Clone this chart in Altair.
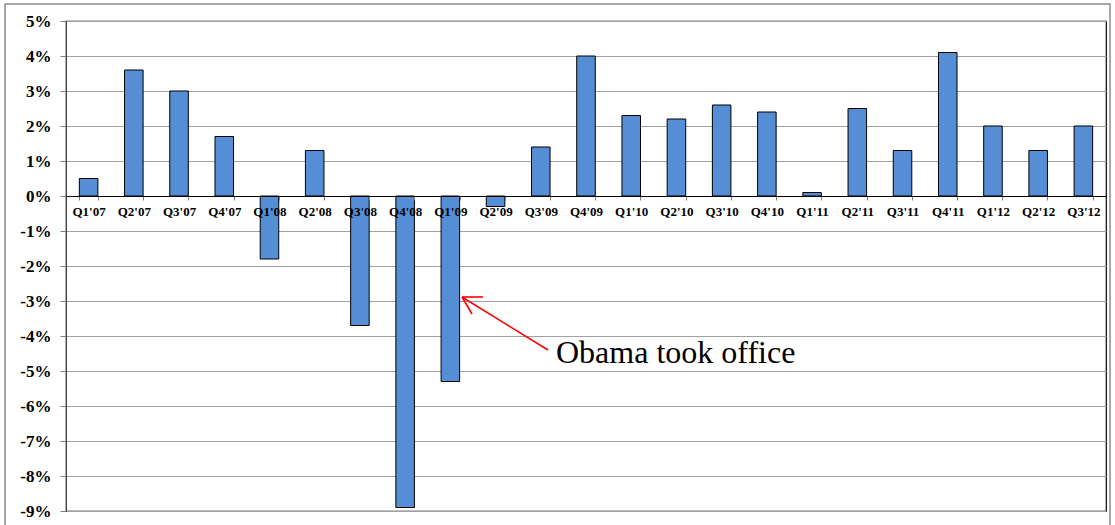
import altair as alt
import pandas as pd

quarters = ["Q1'07", "Q2'07", "Q3'07", "Q4'07", "Q1'08", "Q2'08", "Q3'08", "Q4'08",
            "Q1'09", "Q2'09", "Q3'09", "Q4'09", "Q1'10", "Q2'10", "Q3'10", "Q4'10",
            "Q1'11", "Q2'11", "Q3'11", "Q4'11", "Q1'12", "Q2'12", "Q3'12"]
growth = [0.5, 3.6, 3.0, 1.7, -1.8, 1.3, -3.7, -8.9,
          -5.3, -0.3, 1.4, 4.0, 2.3, 2.2, 2.6, 2.4,
          0.1, 2.5, 1.3, 4.1, 2.0, 1.3, 2.0]
y_ticks = list(range(-9, 6))
annotation_text = "Obama took office"

df = pd.DataFrame({"quarter": quarters, "growth": growth})

FONT = "Liberation Serif"
W, H = 1040, 490

x_enc = alt.X("quarter:N", sort=quarters,
              scale=alt.Scale(paddingInner=0.59, paddingOuter=0.295),
              axis=alt.Axis(orient="bottom", offset=-315, title=None, labelAngle=0,
                            labelFont=FONT, labelFontSize=13, labelFontWeight="bold",
                            labelColor="black", labelPadding=5, tickBand="extent",
                            tickSize=4, tickColor="#808080", domainColor="black",
                            grid=False, zindex=1))
y_enc = alt.Y("growth:Q",
              scale=alt.Scale(domain=[-9, 5], nice=False, zero=False),
              axis=alt.Axis(values=y_ticks, labelExpr="datum.value + '%'", title=None,
                            labelFont=FONT, labelFontSize=17, labelFontWeight="bold",
                            labelColor="black", labelPadding=9, tickSize=6,
                            tickColor="#808080", domainColor="#404040",
                            grid=True, gridColor="#a0a0a0", gridWidth=1))

bars = alt.Chart(df).mark_bar(color="#558ED5", stroke="black", strokeWidth=1).encode(
    x=x_enc, y=y_enc, y2=alt.datum(0))

frame = alt.Chart(pd.DataFrame({"a": [0]})).mark_rect(
    fill="white", fillOpacity=0, stroke="#8c8c8c", strokeWidth=1.5).encode(
    x=alt.value(-61), x2=alt.value(1044), y=alt.value(-17), y2=alt.value(530))

one = pd.DataFrame({"t": [annotation_text]})
shaft = alt.Chart(one).mark_rule(color="red", strokeWidth=1.6).encode(
    x=alt.value(396), y=alt.value(276), x2=alt.value(482), y2=alt.value(329))
arm1 = alt.Chart(one).mark_rule(color="red", strokeWidth=1.6).encode(
    x=alt.value(396), y=alt.value(276), x2=alt.value(417), y2=alt.value(276))
arm2 = alt.Chart(one).mark_rule(color="red", strokeWidth=1.6).encode(
    x=alt.value(396), y=alt.value(276), x2=alt.value(406), y2=alt.value(293))
label = alt.Chart(one).mark_text(font=FONT, fontSize=32, align="left",
                                 baseline="alphabetic", color="black").encode(
    text="t:N", x=alt.value(490), y=alt.value(342))

chart = alt.layer(frame, bars, shaft, arm1, arm2, label).properties(
    width=W, height=H, autosize="none",
    padding={"left": 66, "top": 21, "right": 9, "bottom": 14},
    background="white",
).configure_view(stroke="black", strokeWidth=1.2)

chart.save("out.html", embed_options={"renderer": "svg", "actions": False})
